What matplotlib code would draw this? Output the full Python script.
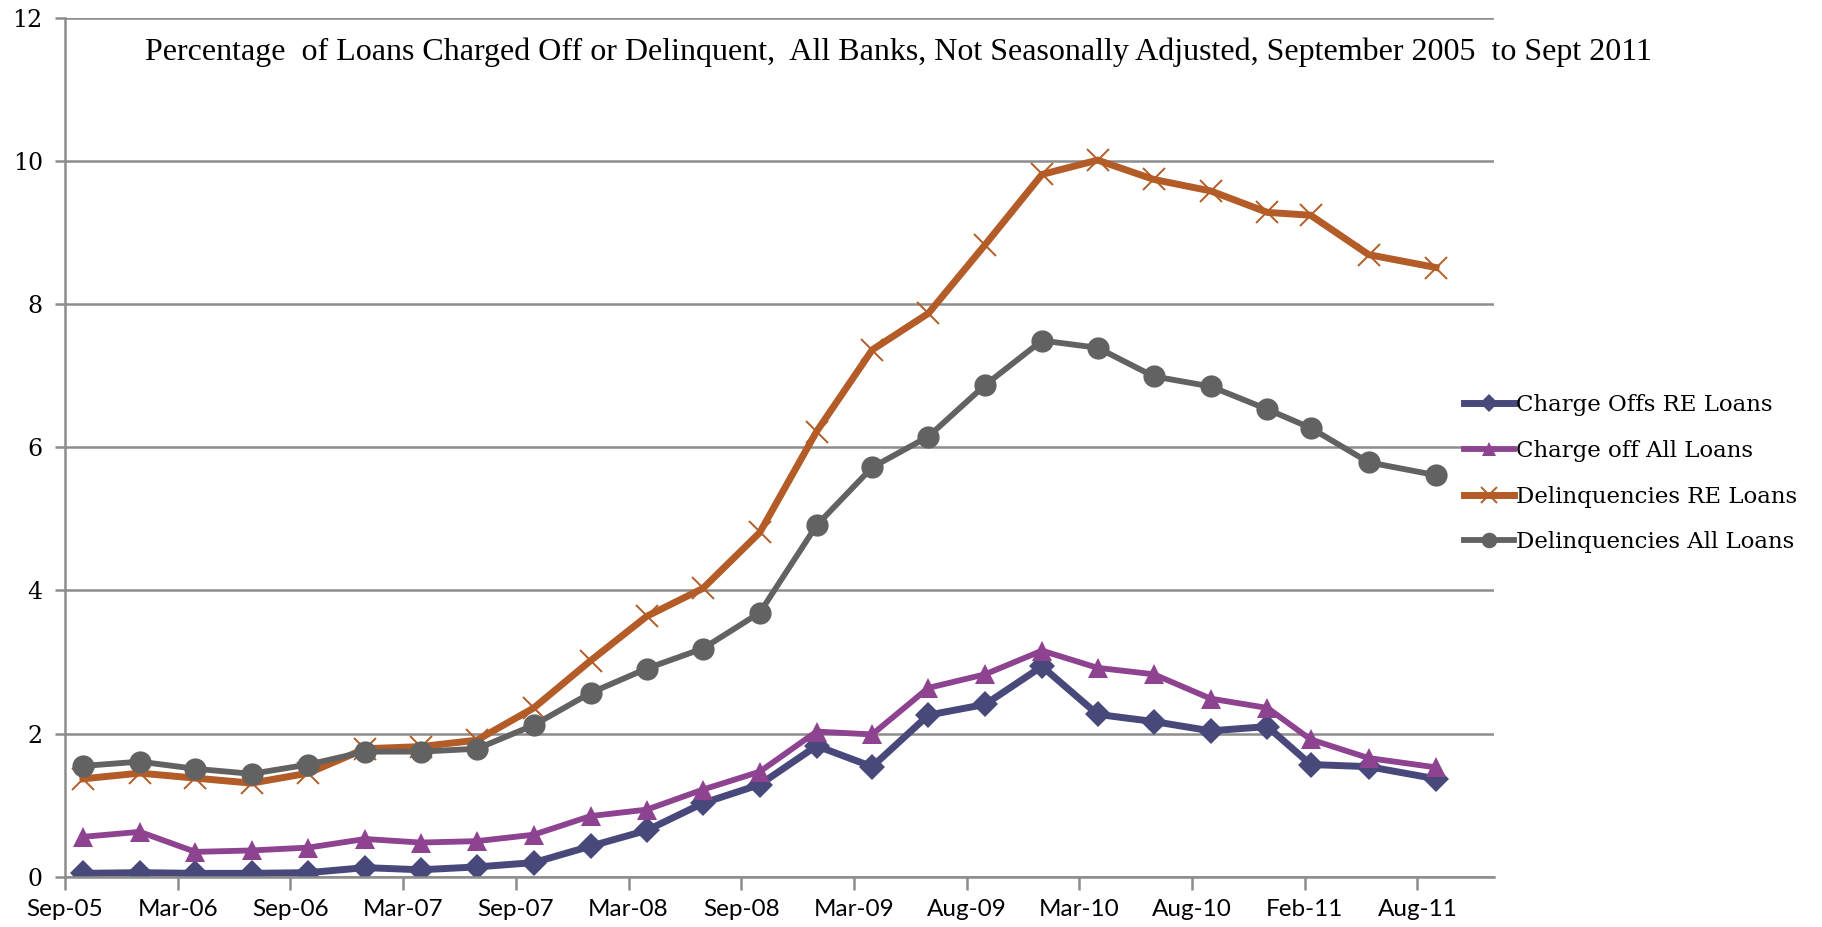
import numpy as np
import pandas as pd
import matplotlib
matplotlib.use("Agg")
import matplotlib.pyplot as plt

# quarterly observation dates (last three are irregular in the source)
dates = pd.to_datetime(
    ["2005-09-30", "2005-12-31", "2006-03-31", "2006-06-30", "2006-09-30",
     "2006-12-31", "2007-03-31", "2007-06-30", "2007-09-30", "2007-12-31",
     "2008-03-31", "2008-06-30", "2008-09-30", "2008-12-31", "2009-03-31",
     "2009-06-30", "2009-09-30", "2009-12-31", "2010-03-31", "2010-06-30",
     "2010-09-30", "2010-12-31", "2011-03-11", "2011-06-13", "2011-09-30"])

charge_offs_re = [0.05, 0.06, 0.05, 0.05, 0.06, 0.13, 0.10, 0.14, 0.20, 0.43,
                  0.65, 1.03, 1.29, 1.83, 1.54, 2.26, 2.41, 2.94, 2.27, 2.17,
                  2.04, 2.10, 1.57, 1.54, 1.37]
charge_off_all = [0.56, 0.63, 0.35, 0.37, 0.41, 0.53, 0.48, 0.50, 0.59, 0.85,
                  0.94, 1.22, 1.47, 2.03, 1.99, 2.64, 2.83, 3.16, 2.92, 2.83,
                  2.49, 2.36, 1.92, 1.66, 1.53]
delinq_re = [1.37, 1.45, 1.38, 1.31, 1.45, 1.79, 1.82, 1.91, 2.36, 3.02,
             3.64, 4.03, 4.81, 6.22, 7.36, 7.87, 8.83, 9.81, 10.01, 9.74,
             9.58, 9.28, 9.24, 8.69, 8.51]
delinq_all = [1.55, 1.61, 1.51, 1.44, 1.57, 1.75, 1.75, 1.79, 2.12, 2.57,
              2.91, 3.19, 3.69, 4.91, 5.72, 6.15, 6.87, 7.49, 7.39, 6.99,
              6.85, 6.53, 6.27, 5.79, 5.61]

tick_labels = ["Sep-05", "Mar-06", "Sep-06", "Mar-07", "Sep-07", "Mar-08",
               "Sep-08", "Mar-09", "Aug-09", "Mar-10", "Aug-10", "Feb-11", "Aug-11"]

title = ("Percentage  of Loans Charged Off or Delinquent,  All Banks, "
         "Not Seasonally Adjusted, September 2005  to Sept 2011")

fig = plt.figure(figsize=(18.22, 9.27), dpi=100)
ax = fig.add_axes([0.0357, 0.054, 0.7843, 0.927])

grid_c = "#8c8c8c"
series = [
    ("Charge Offs RE Loans", charge_offs_re, "#48487a", "D", 13, 5.0),
    ("Charge off All Loans", charge_off_all, "#8e4391", "^", 15, 4.2),
    ("Delinquencies RE Loans", delinq_re, "#b35c27", "x", 16, 5.0),
    ("Delinquencies All Loans", delinq_all, "#626262", "o", 16, 4.2),
]
for name, vals, col, mk, ms, lw in series:
    kw = dict(markeredgewidth=1.4) if mk == "x" else dict(markeredgewidth=0)
    ax.plot(dates, vals, color=col, lw=lw, marker=mk, ms=ms, label=name,
            markerfacecolor=col, markeredgecolor=col, solid_joinstyle="miter", **kw)

start = pd.Timestamp("2005-09-01")
ticks = [start + pd.Timedelta(days=182.5 * k) for k in range(len(tick_labels))]
ax.set_xticks(ticks)
ax.set_xticklabels(tick_labels, family="Lato", fontsize=17.5)
ax.set_xlim(start, pd.Timestamp("2012-01-02"))

ax.set_ylim(0, 12)
ax.set_yticks(np.arange(0, 13, 2))
ax.set_yticklabels([str(v) for v in range(0, 13, 2)], family="DejaVu Serif", fontsize=17)
ax.yaxis.grid(True, color=grid_c, lw=1.8)
ax.set_axisbelow(True)

for s in ["top", "right"]:
    ax.spines[s].set_visible(False)
for s in ["left", "bottom"]:
    ax.spines[s].set_color(grid_c)
    ax.spines[s].set_linewidth(1.8)
ax.tick_params(axis="x", direction="out", length=9, width=1.8, color=grid_c, pad=7)
ax.tick_params(axis="y", direction="out", length=7, width=1.8, color=grid_c, pad=9)

fig.text(0.493, 0.944, title, ha="center", va="center",
         family="Liberation Serif", fontsize=23)

leg = fig.legend(loc="center left", bbox_to_anchor=(0.792, 0.489), frameon=False,
                 prop={"family": "DejaVu Serif", "size": 16.5},
                 handlelength=2.2, handletextpad=0.1, labelspacing=1.04,
                 markerscale=0.7)

fig.savefig("out.png", dpi=100)
